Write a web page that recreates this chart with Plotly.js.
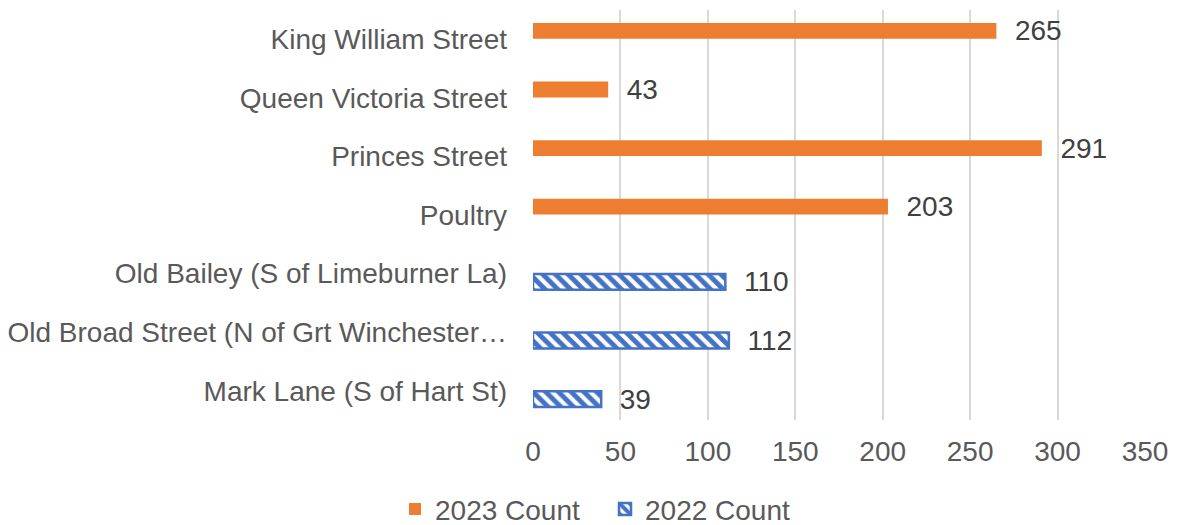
<!DOCTYPE html>
<html>
<head>
<meta charset="utf-8">
<script src="https://cdn.plot.ly/plotly-3.0.1.min.js"></script>
<style>html,body{margin:0;padding:0;background:#fff;}#chart{width:1180px;height:525px;}</style>
</head>
<body>
<div id="chart"></div>
<script>
const categories = [
  "King William Street",
  "Queen Victoria Street",
  "Princes Street",
  "Poultry",
  "Old Bailey (S of Limeburner La)",
  "Old Broad Street (N of Grt Winchester…",
  "Mark Lane (S of Hart St)"
];
const count2023 = [265, 43, 291, 203, null, null, null];
const count2022 = [null, null, null, null, 110, 112, 39];
const xTicks = [0, 50, 100, 150, 200, 250, 300, 350];

const textColor = "#595959";
const fontFam = "Liberation Sans, Arial, sans-serif";
const fsize = 28;

const traces = [
  {
    type: "bar", orientation: "h", name: "2023 Count",
    y: categories, x: count2023,
    marker: {color: "#ED7D31"},
    text: count2023.map(v => v == null ? "" : "\u00a0\u00a0" + v),
    textposition: "outside", cliponaxis: false, constraintext: "none",
    textfont: {family: fontFam, size: fsize, color: "#404040"},
    hoverinfo: "x+y"
  },
  {
    type: "bar", orientation: "h", name: "2022 Count",
    y: categories, x: count2022,
    marker: {
      color: "#4472C4",
      line: {color: "#4472C4", width: 2.5},
      pattern: {shape: "\\", bgcolor: "#ffffff", fgcolor: "#4472C4", size: 9, solidity: 0.55}
    },
    text: count2022.map(v => v == null ? "" : "\u00a0\u00a0" + v),
    textposition: "outside", cliponaxis: false, constraintext: "none",
    textfont: {family: fontFam, size: fsize, color: "#404040"},
    hoverinfo: "x+y"
  }
];

const layout = {
  width: 1180, height: 525,
  margin: {l: 533, r: 35, t: 10, b: 105},
  paper_bgcolor: "#fff", plot_bgcolor: "#fff",
  font: {family: fontFam, size: fsize, color: textColor},
  barmode: "group", bargap: 0.43, bargroupgap: 0.05,
  showlegend: true,
  legend: {
    orientation: "h", xref: "container", yref: "container",
    x: 395 / 1180, xanchor: "left", y: 0.03, yanchor: "middle",
    entrywidth: 165, entrywidthmode: "pixels",
    font: {family: fontFam, size: fsize, color: textColor},
    traceorder: "normal"
  },
  xaxis: {
    range: [0, 350], tickvals: xTicks, ticktext: xTicks.map(String),
    showgrid: true, gridcolor: "#D9D9D9", gridwidth: 2,
    zeroline: false, showline: false, ticks: "",
    ticklabelstandoff: 12,
    tickfont: {family: fontFam, size: fsize, color: textColor},
    fixedrange: true
  },
  yaxis: {
    type: "category", autorange: "reversed",
    showgrid: false, zeroline: false, showline: false, ticks: "",
    ticklabelstandoff: 25,
    tickfont: {family: fontFam, size: fsize, color: textColor},
    fixedrange: true
  }
};

Plotly.newPlot("chart", traces, layout, {displayModeBar: false, staticPlot: true});
</script>
</body>
</html>
